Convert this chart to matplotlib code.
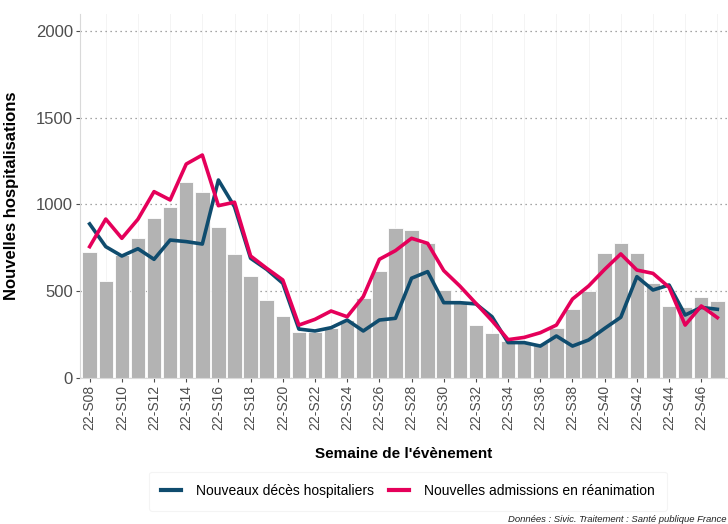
import matplotlib.pyplot as plt
import numpy as np

plt.rcParams['font.family'] = ['Liberation Sans', 'DejaVu Sans']

weeks = ["22-S%02d" % w for w in range(8, 48)]

# hospitalisations (barres)
hospit = [724, 561, 710, 807, 920, 984, 1128, 1070, 872, 717,
          588, 450, 357, 263, 267, 286, 334, 463, 619, 866,
          853, 776, 505, 430, 307, 259, 215, 209, 200, 290,
          398, 501, 722, 776, 722, 549, 415, 407, 465, 446]

# nouveaux deces hospitaliers
deces = [888, 757, 703, 745, 684, 795, 786, 772, 1141, 987,
         690, 626, 546, 282, 271, 290, 334, 271, 334, 344,
         575, 613, 434, 434, 427, 353, 204, 204, 184, 242,
         184, 219, 286, 350, 584, 507, 536, 363, 407, 396]

# nouvelles admissions en reanimation
rea = [757, 916, 805, 915, 1074, 1026, 1233, 1285, 993, 1013,
       703, 632, 565, 305, 338, 386, 353, 469, 684, 734,
       805, 776, 619, 530, 430, 330, 221, 234, 261, 305,
       455, 530, 626, 715, 622, 603, 523, 305, 415, 348]

c_deces = '#0f4c6e'
c_rea = '#e5005a'
grey_txt = '#4d4d4d'

fig = plt.figure(figsize=(7.28, 5.24), dpi=100)
ax = fig.add_axes([80/728, 146/524, 647/728, (378-13.6)/524])

x = np.arange(len(weeks))
ax.bar(x, hospit, width=0.9, color='#b3b3b3', edgecolor='white', linewidth=0.6, zorder=2)
l1, = ax.plot(x, deces, color=c_deces, lw=2.6, zorder=3, solid_joinstyle='round')
l2, = ax.plot(x, rea, color=c_rea, lw=2.6, zorder=4, solid_joinstyle='round')

ax.set_xlim(-0.6, len(weeks) - 0.4)
ax.set_ylim(0, 2100)
ax.set_yticks([0, 500, 1000, 1500, 2000])
ax.set_xticks(x[::2])
ax.set_xticklabels(weeks[::2], rotation=90, fontsize=10, color=grey_txt)
ax.tick_params(axis='y', labelsize=12, colors=grey_txt, length=3, pad=2)
ax.tick_params(axis='x', length=3, colors=grey_txt, pad=2)

ax.grid(axis='y', which='major', linestyle=(0, (1, 3)), color='#888888', lw=0.9, zorder=0)
ax.set_xticks(x, minor=True)
ax.grid(axis='x', which='minor', color='#f2f2f2', lw=0.6, zorder=0)
ax.tick_params(axis='x', which='minor', length=0)
ax.set_axisbelow(True)

for s in ['top', 'right']:
    ax.spines[s].set_visible(False)
ax.spines['left'].set_color('#d9d9d9')
ax.spines['bottom'].set_color('#d9d9d9')

ax.set_ylabel("Nouvelles hospitalisations", fontsize=12, fontweight='bold', labelpad=12)
ax.set_xlabel("Semaine de l'évènement", fontsize=11, fontweight='bold', labelpad=12)

leg = fig.legend([l1, l2], ["Nouveaux décès hospitaliers", "Nouvelles admissions en réanimation"],
                 loc='center', bbox_to_anchor=(408/728, 1 - 491/524), ncol=2, frameon=True,
                 fontsize=10, handlelength=1.45, handletextpad=1.05, columnspacing=1.1,
                 borderpad=0.9)
leg.get_frame().set_edgecolor('#f2f2f2')
leg.get_frame().set_linewidth(0.8)
for h in leg.legend_handles:
    h.set_linewidth(3)

fig.text(726/728, 1 - 519/524, "Données : Sivic. Traitement : Santé publique France",
         ha='right', va='center', fontsize=6.8, style='italic', color='#222222')

fig.savefig('out.png', dpi=100)
